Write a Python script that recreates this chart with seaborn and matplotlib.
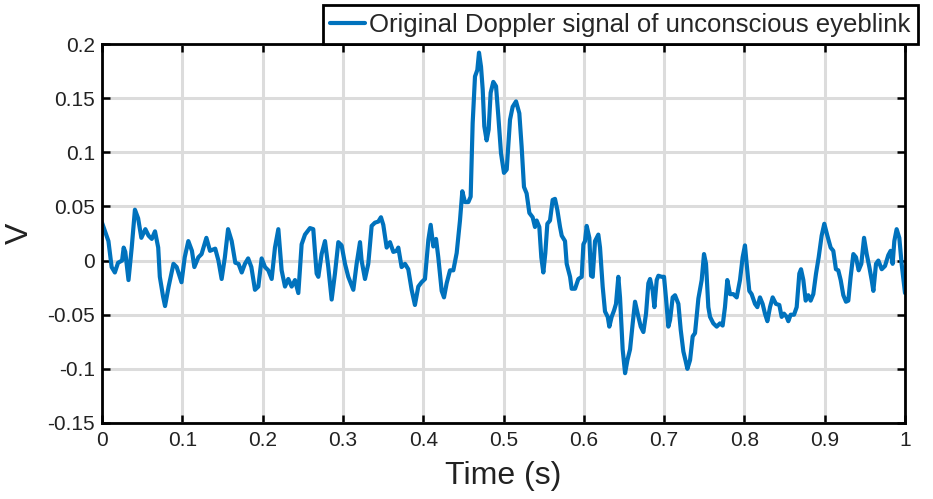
import matplotlib
matplotlib.use("Agg")
import matplotlib.pyplot as plt
import seaborn as sns
import pandas as pd
import numpy as np

# ---- data ----
time_s = [
    0.000, 0.008, 0.012, 0.016, 0.020, 0.025, 0.027, 0.029, 0.033, 0.037,
    0.041, 0.045, 0.049, 0.054, 0.058, 0.062, 0.066, 0.070, 0.072, 0.076,
    0.0785, 0.083, 0.089, 0.093, 0.099, 0.103, 0.1075, 0.112, 0.115, 0.120,
    0.124, 0.130, 0.1345, 0.141, 0.145, 0.149, 0.153, 0.157, 0.1615, 0.166,
    0.170, 0.174, 0.178, 0.182, 0.186, 0.1905, 0.1947, 0.1988, 0.203, 0.2071,
    0.2113, 0.2154, 0.2196, 0.2237, 0.2279, 0.232, 0.2362, 0.2403, 0.2445, 0.2486,
    0.2528, 0.259, 0.2631, 0.2673, 0.2694, 0.2735, 0.2777, 0.2818, 0.286, 0.2901,
    0.2943, 0.2984, 0.3026, 0.3067, 0.313, 0.3171, 0.3213, 0.3233, 0.3275, 0.3316,
    0.3358, 0.3399, 0.3441, 0.3474, 0.3503, 0.3545, 0.3586, 0.3628, 0.3669, 0.369,
    0.3731, 0.3773, 0.3814, 0.3856, 0.3897, 0.3939, 0.398, 0.4022, 0.4064, 0.4093,
    0.4126, 0.416, 0.4188, 0.423, 0.4259, 0.4292, 0.4334, 0.4375, 0.4417, 0.4458,
    0.4487, 0.452, 0.4562, 0.4591, 0.4616, 0.4645, 0.4674, 0.4695, 0.472, 0.4741,
    0.4761, 0.479, 0.4815, 0.484, 0.4873, 0.4907, 0.4936, 0.4969, 0.5006, 0.504,
    0.5081, 0.5114, 0.5156, 0.5197, 0.5226, 0.5255, 0.5288, 0.5322, 0.5363, 0.5392,
    0.5413, 0.5446, 0.5471, 0.5496, 0.5521, 0.5546, 0.5579, 0.5612, 0.5641, 0.567,
    0.5704, 0.5725, 0.5766, 0.5787, 0.5829, 0.5849, 0.5891, 0.5932, 0.5974, 0.5995,
    0.6015, 0.6036, 0.6069, 0.609, 0.6111, 0.614, 0.6181, 0.6202, 0.6235, 0.6264,
    0.6298, 0.6318, 0.6347, 0.6377, 0.6401, 0.643, 0.6451, 0.6484, 0.6514, 0.6543,
    0.6576, 0.6609, 0.6638, 0.668, 0.6709, 0.6742, 0.6775, 0.6804, 0.6825, 0.6858,
    0.6879, 0.6908, 0.6929, 0.697, 0.6999, 0.7024, 0.7053, 0.7074, 0.7107, 0.7136,
    0.7178, 0.7207, 0.724, 0.7269, 0.729, 0.7323, 0.7356, 0.7385, 0.7427, 0.7468,
    0.7497, 0.7522, 0.7551, 0.7572, 0.7613, 0.7655, 0.7696, 0.7729, 0.7758, 0.7787,
    0.7821, 0.7862, 0.7904, 0.7945, 0.7978, 0.8007, 0.8028, 0.8061, 0.809, 0.8132,
    0.8161, 0.8194, 0.8227, 0.8256, 0.8286, 0.8319, 0.8352, 0.8393, 0.8435, 0.8464,
    0.8493, 0.8526, 0.8547, 0.8576, 0.8618, 0.8651, 0.8684, 0.8705, 0.8734, 0.8763,
    0.8796, 0.8825, 0.8858, 0.8892, 0.8925, 0.8962, 0.8995, 0.9033, 0.9074, 0.9107,
    0.914, 0.9169, 0.9199, 0.9232, 0.9265, 0.9294, 0.9323, 0.9357, 0.939, 0.9423,
    0.9456, 0.949, 0.9523, 0.9556, 0.9585, 0.9606, 0.9639, 0.9668, 0.971, 0.9751,
    0.9792, 0.9821, 0.9846, 0.9867, 0.9896, 0.9929, 0.9958, 1.000,
]
voltage = [
    0.035, 0.018, -0.006, -0.011, -0.002, 0.000, 0.012, 0.008, -0.018, 0.012,
    0.047, 0.039, 0.021, 0.029, 0.023, 0.020, 0.027, 0.012, -0.015, -0.033,
    -0.042, -0.024, -0.003, -0.006, -0.020, 0.003, 0.018, 0.009, -0.006, 0.003,
    0.006, 0.021, 0.009, 0.011, 0.000, -0.017, 0.003, 0.029, 0.018, -0.002,
    -0.003, -0.011, -0.003, 0.002, -0.006, -0.027, -0.024, 0.002, -0.006, -0.009,
    -0.017, 0.012, 0.029, -0.009, -0.024, -0.017, -0.024, -0.018, -0.030, 0.015,
    0.024, 0.030, 0.029, -0.012, -0.015, 0.006, 0.018, -0.006, -0.036, -0.012,
    0.017, 0.014, -0.003, -0.015, -0.027, -0.003, 0.017, 0.000, -0.017, -0.003,
    0.032, 0.035, 0.036, 0.040, 0.033, 0.012, 0.017, 0.008, 0.009, 0.012,
    -0.006, -0.003, -0.008, -0.027, -0.041, -0.024, -0.020, -0.017, 0.019, 0.033,
    0.013, 0.020, 0.003, -0.028, -0.034, -0.021, -0.009, -0.009, 0.007, 0.037,
    0.064, 0.054, 0.054, 0.059, 0.127, 0.170, 0.176, 0.192, 0.179, 0.158,
    0.124, 0.111, 0.121, 0.155, 0.165, 0.161, 0.133, 0.099, 0.081, 0.084,
    0.130, 0.142, 0.147, 0.136, 0.105, 0.068, 0.062, 0.044, 0.040, 0.031,
    0.037, 0.031, 0.003, -0.011, 0.007, 0.034, 0.037, 0.056, 0.057, 0.047,
    0.031, 0.023, 0.018, -0.003, -0.015, -0.026, -0.026, -0.017, -0.015, 0.015,
    0.018, 0.032, 0.021, -0.014, -0.015, 0.018, 0.024, 0.012, -0.024, -0.047,
    -0.052, -0.061, -0.052, -0.046, -0.040, -0.015, -0.034, -0.082, -0.104, -0.092,
    -0.082, -0.058, -0.038, -0.052, -0.061, -0.066, -0.049, -0.021, -0.017, -0.028,
    -0.043, -0.018, -0.014, -0.015, -0.015, -0.035, -0.061, -0.055, -0.034, -0.032,
    -0.040, -0.064, -0.084, -0.093, -0.100, -0.092, -0.070, -0.067, -0.035, -0.018,
    0.006, -0.003, -0.043, -0.052, -0.058, -0.061, -0.058, -0.060, -0.043, -0.018,
    -0.031, -0.031, -0.034, -0.018, 0.003, 0.014, -0.003, -0.028, -0.031, -0.040,
    -0.043, -0.034, -0.040, -0.049, -0.056, -0.043, -0.034, -0.040, -0.041, -0.052,
    -0.049, -0.052, -0.056, -0.050, -0.050, -0.043, -0.012, -0.008, -0.018, -0.037,
    -0.032, -0.037, -0.031, -0.012, 0.003, 0.023, 0.034, 0.023, 0.012, 0.009,
    -0.008, -0.009, -0.018, -0.032, -0.038, -0.037, -0.015, 0.006, 0.003, -0.009,
    -0.003, 0.021, 0.006, -0.006, -0.018, -0.028, -0.003, 0.000, -0.008, -0.005,
    0.005, 0.009, -0.003, 0.018, 0.029, 0.021, -0.003, -0.030,
]
x_ticks = [0, 0.1, 0.2, 0.3, 0.4, 0.5, 0.6, 0.7, 0.8, 0.9, 1]
x_tick_labels = ["0", "0.1", "0.2", "0.3", "0.4", "0.5", "0.6", "0.7", "0.8", "0.9", "1"]
y_ticks = [-0.15, -0.1, -0.05, 0, 0.05, 0.1, 0.15, 0.2]
y_tick_labels = ["-0.15", "-0.1", "-0.05", "0", "0.05", "0.1", "0.15", "0.2"]
series_name = "Original Doppler signal of unconscious eyeblink"

df = pd.DataFrame({"Time (s)": time_s, "V": voltage})

sns.set_theme(style="whitegrid")
plt.rcParams["font.family"] = ["Liberation Sans", "DejaVu Sans"]
plt.rcParams["axes.unicode_minus"] = False

fig = plt.figure(figsize=(9.33, 4.99), dpi=100)
ax = fig.add_axes([102 / 933, 1 - 423 / 499, (905 - 102) / 933, (423 - 44) / 499])

sns.lineplot(data=df, x="Time (s)", y="V", ax=ax, color="#0072BD",
             linewidth=3.0, sort=False, estimator=None, label=series_name)
ax.lines[0].set_solid_joinstyle("round")

ax.set_xlim(0, 1)
ax.set_ylim(-0.15, 0.2)
ax.set_xticks(x_ticks)
ax.set_xticklabels(x_tick_labels)
ax.set_yticks(y_ticks)
ax.set_yticklabels(y_tick_labels)

ax.grid(True, color="#dcdcdc", linewidth=2.2)
ax.set_facecolor("white")
for s in ax.spines.values():
    s.set_color("black")
    s.set_linewidth(2.0)
    s.set_visible(True)

ax.tick_params(axis="both", which="major", direction="in", length=6, width=1.8,
               color="black", labelsize=15, labelcolor="#222222",
               top=True, right=True, bottom=True, left=True)
ax.tick_params(axis="y", pad=5)
ax.tick_params(axis="x", pad=6)

ax.set_xlabel("Time (s)", fontsize=23, color="#222222", labelpad=8)
ax.set_ylabel("V", fontsize=23, color="#222222", labelpad=9)

leg = ax.legend(loc="upper right", bbox_to_anchor=(918 / 933, 1 - 5 / 499),
                bbox_transform=fig.transFigure, borderaxespad=0,
                fontsize=18.5, frameon=True, fancybox=False, framealpha=1,
                edgecolor="black", handlelength=1.35, handletextpad=0.15,
                borderpad=0.3)
leg.get_frame().set_linewidth(2.0)
for line in leg.get_lines():
    line.set_linewidth(3.0)

fig.savefig("out.png", dpi=100)
